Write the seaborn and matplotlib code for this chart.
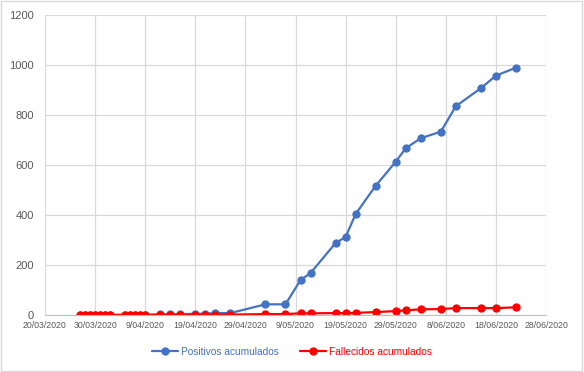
import pandas as pd
import matplotlib
matplotlib.use("Agg")
import matplotlib.pyplot as plt
from matplotlib.patches import Rectangle
import seaborn as sns

# Data
fechas = ["27/03/2020", "28/03/2020", "29/03/2020", "30/03/2020", "31/03/2020",
          "1/04/2020", "2/04/2020", "5/04/2020", "6/04/2020", "7/04/2020",
          "8/04/2020", "9/04/2020", "12/04/2020", "14/04/2020", "16/04/2020",
          "19/04/2020", "21/04/2020", "23/04/2020", "26/04/2020", "3/05/2020",
          "7/05/2020", "10/05/2020", "12/05/2020", "17/05/2020", "19/05/2020",
          "21/05/2020", "25/05/2020", "29/05/2020", "31/05/2020", "3/06/2020",
          "7/06/2020", "10/06/2020", "15/06/2020", "18/06/2020", "22/06/2020"]
positivos = [1, 1, 1, 1, 1, 1, 1, 2, 2, 2, 2, 2, 3, 3, 4, 5, 6, 8, 8,
             43, 43, 140, 168, 288, 312, 404, 517, 613, 667, 707, 733,
             835, 907, 957, 989]
fallecidos = [0, 0, 0, 0, 0, 0, 0, 0, 0, 0, 0, 0, 1, 1, 1, 1, 1, 2, 2,
              4, 4, 7, 7, 8, 8, 9, 12, 16, 19, 23, 24, 28, 28, 28, 31]
ticks_x = ["20/03/2020", "30/03/2020", "9/04/2020", "19/04/2020", "29/04/2020",
           "9/05/2020", "19/05/2020", "29/05/2020", "8/06/2020", "18/06/2020",
           "28/06/2020"]

df = pd.DataFrame({
    "fecha": pd.to_datetime(fechas, format="%d/%m/%Y"),
    "Positivos acumulados": positivos,
    "Fallecidos acumulados": fallecidos,
})
tick_dates = pd.to_datetime(ticks_x, format="%d/%m/%Y")

sns.set_style("white")
plt.rcParams["font.family"] = ["Liberation Sans", "DejaVu Sans"]

fig = plt.figure(figsize=(5.84, 3.72), dpi=100)
ax = fig.add_axes([0.077, 0.153, 0.858, 0.807])

sns.lineplot(data=df, x="fecha", y="Positivos acumulados", ax=ax, color="#4472C4",
             marker="o", markersize=6, markeredgewidth=0, linewidth=1.6,
             label="Positivos acumulados")
sns.lineplot(data=df, x="fecha", y="Fallecidos acumulados", ax=ax, color="#FF0000",
             marker="o", markersize=6, markeredgewidth=0, linewidth=1.6,
             label="Fallecidos acumulados")

ax.set_xlim(tick_dates[0], tick_dates[-1])
ax.set_ylim(0, 1200)
ax.set_xticks(tick_dates)
ax.set_xticklabels(ticks_x)
ax.set_yticks(range(0, 1201, 200))
ax.grid(True, color="#d9d9d9", linewidth=0.9)
ax.set_axisbelow(True)
for s in ["top", "right", "left"]:
    ax.spines[s].set_visible(False)
ax.spines["bottom"].set_color("#bfbfbf")
ax.tick_params(axis="x", labelsize=6.3, colors="#595959", length=0, pad=4)
ax.tick_params(axis="y", labelsize=8, colors="#595959", length=0, pad=8)
ax.set_xlabel("")
ax.set_ylabel("")

ax.get_legend().remove()
handles, labels = ax.get_legend_handles_labels()
fig.legend(handles, labels, loc="center", bbox_to_anchor=(0.5, 0.054), ncol=2,
           frameon=False, fontsize=7.3, labelcolor="linecolor",
           handlelength=2.6, columnspacing=2.0, handletextpad=0.3)

fig.patches.append(Rectangle((0.002, 0.003), 0.995, 0.993, transform=fig.transFigure,
                             fill=False, edgecolor="#d9d9d9", linewidth=1))

fig.savefig("out.png", dpi=100)
